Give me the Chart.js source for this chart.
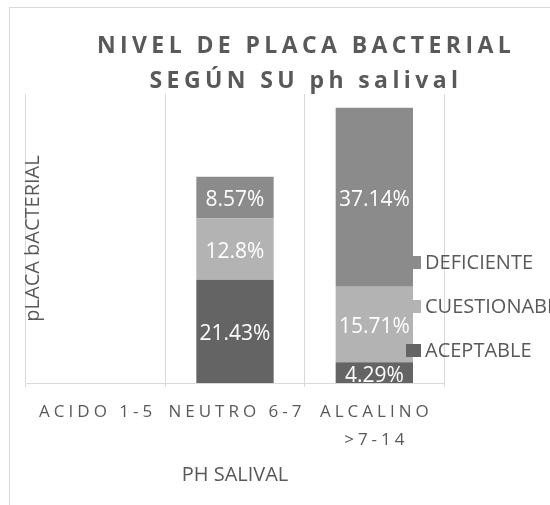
<!DOCTYPE html>
<html>
<head>
<meta charset="utf-8">
<script src="https://cdn.jsdelivr.net/npm/chart.js@4.4.1/dist/chart.umd.min.js"></script>
<style>
  html, body { margin: 0; padding: 0; background: #fff; overflow: hidden; }
  #wrap { width: 550px; height: 505px; position: relative; }
</style>
</head>
<body>
<div id="wrap"><canvas id="placaChart" width="550" height="505"></canvas></div>
<script>
// categories and series
const categories = [['ACIDO 1-5'], ['NEUTRO 6-7'], ['ALCALINO', '>7-14']];
const aceptable = [0, 21.43, 4.29];
const cuestionable = [0, 12.8, 15.71];
const deficiente = [0, 8.57, 37.14];
const seriesNames = ['ACEPTABLE', 'CUESTIONABLE', 'DEFICIENTE'];
const chartTitle = ['NIVEL DE PLACA BACTERIAL', 'SEGÚN SU ph salival'];
const xTitle = 'PH SALIVAL';
const yTitle = 'pLACA bACTERIAL';

const textGray = '#595959';
const gridGray = '#d9d9d9';

// Excel-like decorations: frame, spaced title, spaced ticks, overlapping legend, labels
const decorPlugin = {
    id: 'decorPlugin',
    beforeDraw: (chart) => {
        const ctx = chart.ctx;
        ctx.save();
        ctx.strokeStyle = gridGray;
        ctx.lineWidth = 1;
        ctx.strokeRect(9.5, 7.5, 700, 700);
        ctx.restore();
    },
    afterDatasetsDraw: (chart) => {
        const ctx = chart.ctx;
        ctx.save();
        ctx.font = '21px "Open Sans"';
        ctx.fillStyle = '#ffffff';
        ctx.textAlign = 'center';
        ctx.textBaseline = 'middle';
        chart.data.datasets.forEach((ds, i) => {
            const meta = chart.getDatasetMeta(i);
            meta.data.forEach((bar, j) => {
                const v = ds.data[j];
                if (!v) return;
                ctx.fillText(v + '%', bar.x, (bar.y + bar.base) / 2 + 3);
            });
        });
        ctx.restore();
    },
    afterDraw: (chart) => {
        const ctx = chart.ctx;
        const area = chart.chartArea;
        const xScale = chart.scales.x;
        ctx.save();

        // title
        ctx.fillStyle = textGray;
        ctx.textAlign = 'center';
        ctx.textBaseline = 'alphabetic';
        ctx.font = 'bold 23px "Open Sans"';
        ctx.letterSpacing = '4.4px';
        ctx.fillText(chartTitle[0], 306, 53);
        ctx.fillText(chartTitle[1], 306, 88);

        // x tick labels
        ctx.font = '17px "Open Sans"';
        ctx.letterSpacing = '4px';
        categories.forEach((lines, i) => {
            const x = xScale.getPixelForValue(i);
            lines.forEach((line, k) => {
                ctx.fillText(line, x + 2, 417 + k * 28);
            });
        });

        // axis titles
        ctx.letterSpacing = '0px';
        ctx.font = '20px "Open Sans"';
        ctx.fillText(xTitle, (area.left + area.right) / 2, 481);
        ctx.save();
        ctx.translate(39, (area.top + area.bottom) / 2);
        ctx.rotate(-Math.PI / 2);
        ctx.fillText(yTitle, 0, 0);
        ctx.restore();

        // legend, laid over the right edge of the plot
        ctx.font = '20px "Open Sans"';
        ctx.textAlign = 'left';
        ctx.textBaseline = 'middle';
        const legendY = [350, 306, 262];
        chart.data.datasets.forEach((ds, i) => {
            const y = legendY[i];
            ctx.fillStyle = ds.backgroundColor;
            ctx.fillRect(406, y - 6, 15, 13);
            ctx.fillStyle = textGray;
            ctx.fillText(ds.label, 425, y + 1);
        });
        ctx.restore();
    }
};

const ctx = document.getElementById('placaChart').getContext('2d');
const placaChart = new Chart(ctx, {
    type: 'bar',
    data: {
        labels: categories,
        datasets: [{
            label: seriesNames[0],
            data: aceptable,
            backgroundColor: '#646464'
        },
        {
            label: seriesNames[1],
            data: cuestionable,
            backgroundColor: '#b3b3b3'
        },
        {
            label: seriesNames[2],
            data: deficiente,
            backgroundColor: '#8b8b8b'
        }]
    },
    options: {
        responsive: false,
        animation: false,
        layout: {
            padding: { top: 94, left: 26, right: 106, bottom: 0 }
        },
        datasets: {
            bar: {
                categoryPercentage: 1,
                barPercentage: 0.555
            }
        },
        scales: {
            x: {
                stacked: true,
                grid: {
                    display: true,
                    color: gridGray,
                    offset: true,
                    tickLength: 4
                },
                border: { display: true, color: gridGray },
                ticks: { display: false },
                afterFit: (scale) => { scale.height = 122; }
            },
            y: {
                stacked: true,
                min: 0,
                max: 60,
                grid: { display: false },
                border: { display: false },
                ticks: { display: false },
                afterFit: (scale) => { scale.width = 0; }
            }
        },
        plugins: {
            legend: { display: false },
            title: { display: false },
            tooltip: { enabled: false }
        }
    },
    plugins: [decorPlugin]
});
</script>
</body>
</html>
